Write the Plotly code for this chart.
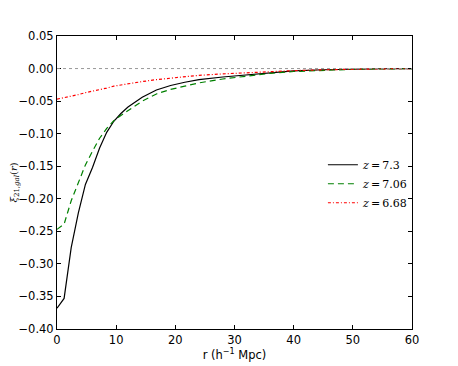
import plotly.graph_objects as go

# separation r in h^-1 Mpc
r = [0, 1.2, 2.4, 3.6, 4.8, 6, 7.2, 8.4, 9.6, 10.8, 12, 14.4, 16.8, 19.2,
     21.6, 24, 28, 32, 36, 40, 45, 50, 55, 60]

xi_z73 = [-0.368, -0.353, -0.275, -0.222, -0.178, -0.152, -0.122, -0.098,
          -0.081, -0.069, -0.059, -0.044, -0.033, -0.026, -0.021, -0.017,
          -0.013, -0.0095, -0.0062, -0.0035, -0.0018, -0.0008, -0.0003, -0.0001]
xi_z706 = [-0.247, -0.239, -0.203, -0.175, -0.148, -0.127, -0.107, -0.092,
           -0.080, -0.072, -0.065, -0.050, -0.039, -0.032, -0.027, -0.022,
           -0.016, -0.0115, -0.0075, -0.0045, -0.0024, -0.0012, -0.0005, -0.0002]
xi_z668 = [-0.047, -0.045, -0.043, -0.040, -0.037, -0.035, -0.032, -0.030,
           -0.027, -0.025, -0.023, -0.020, -0.017, -0.0145, -0.0123, -0.0104,
           -0.0082, -0.0063, -0.0047, -0.0032, -0.0019, -0.0009, -0.0004, -0.0001]

series = [
    ("<i>z</i>\u2009=\u20097.3", xi_z73, "black", "solid"),
    ("<i>z</i>\u2009=\u20097.06", xi_z706, "#008000", "6px,4px"),
    ("<i>z</i>\u2009=\u20096.68", xi_z668, "#ff0000", "3px,2px,1px,2px"),
]

fig = go.Figure()
fig.add_hline(y=0, line=dict(color="#999999", width=1, dash="dot"))

for name, vals, color, dash in series:
    fig.add_trace(go.Scatter(
        x=r, y=vals, mode="lines", name=name,
        line=dict(color=color, width=1.2, dash=dash),
    ))

axis_common = dict(
    showgrid=False, zeroline=False, showline=True, linecolor="black",
    linewidth=1, mirror="ticks", ticks="inside", ticklen=4,
    tickcolor="black", tickfont=dict(size=11.5, color="black"),
    automargin=False,
)

fig.update_xaxes(
    range=[0, 60], tickvals=[0, 10, 20, 30, 40, 50, 60],
    title=dict(text="r (h<sup>−1</sup> Mpc)", font=dict(size=11.5), standoff=2),
    **axis_common,
)
fig.update_yaxes(
    range=[-0.40, 0.05], dtick=0.05, tickformat=".2f",
    title=dict(text="<i>ξ</i><sub>21,<i>gal</i></sub>(<i>r</i>)",
               font=dict(family="DejaVu Serif", size=10), standoff=2),
    **axis_common,
)

fig.update_layout(
    width=458, height=366,
    margin=dict(l=49, r=54, t=28, b=45),
    paper_bgcolor="white", plot_bgcolor="white",
    font=dict(family="DejaVu Sans", color="black"),
    showlegend=True,
    legend=dict(
        x=0.749, y=0.61, xanchor="left", yanchor="top",
        bgcolor="rgba(0,0,0,0)", borderwidth=0,
        font=dict(family="DejaVu Serif", size=11),
        itemwidth=30, tracegroupgap=0,
    ),
)

fig.write_html("out.html")
